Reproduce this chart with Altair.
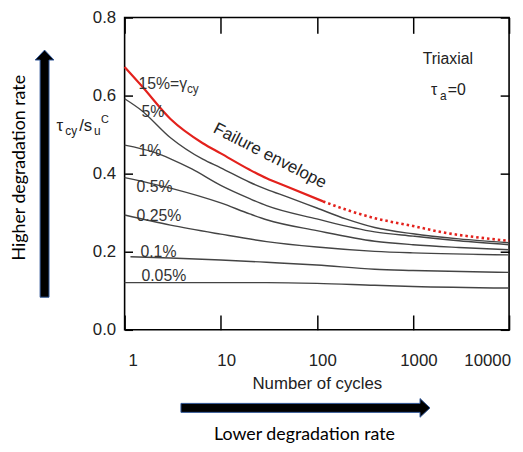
import altair as alt
import pandas as pd

# ---------------- data ----------------
red_solid_N = [1, 1.5, 3, 6.5, 10, 20, 30, 50, 116]
red_solid_tau = [0.673, 0.625, 0.540, 0.478, 0.452, 0.410, 0.388, 0.366, 0.329]
red_dot_N = [116, 200, 400, 1000, 2000, 5000, 10000]
red_dot_tau = [0.329, 0.308, 0.286, 0.266, 0.250, 0.236, 0.228]

c5_N = [1, 1.5, 3, 6.5, 10, 20, 30, 50, 100, 200, 400, 1000, 3000, 10000]
c5_tau = [0.592, 0.562, 0.492, 0.437, 0.415, 0.378, 0.360, 0.340, 0.312, 0.284, 0.262, 0.246, 0.233, 0.223]
c1_N = [1, 2, 3, 5, 10, 20, 30, 100, 400, 1000, 3000, 10000]
c1_tau = [0.473, 0.455, 0.438, 0.412, 0.370, 0.336, 0.318, 0.284, 0.251, 0.240, 0.228, 0.218]
c05_N = [1, 3, 10, 20, 30, 100, 400, 1000, 3000, 10000]
c05_tau = [0.390, 0.363, 0.325, 0.297, 0.282, 0.254, 0.227, 0.218, 0.211, 0.205]
c025_N = [1, 3, 10, 30, 100, 400, 1000, 10000]
c025_tau = [0.294, 0.268, 0.245, 0.226, 0.212, 0.201, 0.197, 0.192]
c01_N = [1.15, 3, 10, 30, 100, 400, 1000, 10000]
c01_tau = [0.187, 0.184, 0.179, 0.173, 0.166, 0.155, 0.152, 0.147]
c005_N = [1, 10, 30, 100, 400, 1000, 10000]
c005_tau = [0.121, 0.121, 0.121, 0.119, 0.114, 0.111, 0.107]

x_ticks = [1, 10, 100, 1000, 10000]
x_tick_labels = ["1", "10", "100", "1000", "10000"]
y_ticks = [0.0, 0.2, 0.4, 0.6, 0.8]

W, H = 389, 316
FONT = "Liberation Sans"
TXT = "#222222"
GRAY = "#444444"
RED = "#e3211c"

gray_rows = []
for name, ns, ts in [("5%", c5_N, c5_tau), ("1%", c1_N, c1_tau), ("0.5%", c05_N, c05_tau),
                     ("0.25%", c025_N, c025_tau), ("0.1%", c01_N, c01_tau), ("0.05%", c005_N, c005_tau)]:
    for n, t in zip(ns, ts):
        gray_rows.append({"curve": name, "N": n, "tau": t})
gray_df = pd.DataFrame(gray_rows)
red_solid_df = pd.DataFrame({"N": red_solid_N, "tau": red_solid_tau})
red_dot_df = pd.DataFrame({"N": red_dot_N, "tau": red_dot_tau})

xs = alt.Scale(type="log", domain=[1, 10000])
ys = alt.Scale(domain=[0, 0.8])

tick_look = dict(ticks=True, tickColor="#000000", tickWidth=1.5, domain=False, grid=False)

# bottom / left axes: pulled inside the frame so that their ticks point inward
x_axis_bottom = alt.Axis(values=x_ticks, labels=False, title="Number of cycles", orient="bottom",
                         offset=-15, tickSize=15, titlePadding=46, titleFontSize=17,
                         titleFontWeight="normal", titleColor=TXT, **tick_look)
y_axis_left = alt.Axis(values=y_ticks, format=".1f", title=None, orient="left",
                       offset=-8, tickSize=8, labelPadding=9, **tick_look)
# top / right axes: ticks only
x_axis_top = alt.Axis(values=x_ticks, labels=False, title=None, orient="top",
                      offset=-16, tickSize=16, **tick_look)
y_axis_right = alt.Axis(values=y_ticks, labels=False, title=None, orient="right",
                        offset=-9, tickSize=9, **tick_look)

gray_lines = alt.Chart(gray_df).mark_line(color=GRAY, strokeWidth=1.4, interpolate="monotone").encode(
    x=alt.X("N:Q", scale=xs, axis=x_axis_bottom),
    y=alt.Y("tau:Q", scale=ys, axis=y_axis_left),
    detail="curve:N",
)
red_solid = alt.Chart(red_solid_df).mark_line(color=RED, strokeWidth=2.2, interpolate="monotone").encode(
    x=alt.X("N:Q", scale=xs, axis=x_axis_top), y=alt.Y("tau:Q", scale=ys, axis=y_axis_right))
red_dot = alt.Chart(red_dot_df).mark_line(color=RED, strokeWidth=2.6, strokeDash=[2.5, 3],
                                          interpolate="monotone").encode(
    x=alt.X("N:Q", scale=xs, axis=None), y=alt.Y("tau:Q", scale=ys, axis=None))

# x tick labels (shifted right like the reference)
xl_df = pd.DataFrame({"N": x_ticks, "lab": x_tick_labels})
xl_style = dict(fontSize=17, font=FONT, color=TXT, baseline="top")
xl_first = alt.Chart(xl_df.iloc[:1]).mark_text(align="left", dx=4, **xl_style).encode(
    x=alt.X("N:Q", scale=xs, axis=None), y=alt.value(H + 24), text="lab:N")
xl_mid = alt.Chart(xl_df.iloc[1:4]).mark_text(align="center", dx=6, **xl_style).encode(
    x=alt.X("N:Q", scale=xs, axis=None), y=alt.value(H + 24), text="lab:N")
xl_last = alt.Chart(xl_df.iloc[4:]).mark_text(align="right", dx=2, **xl_style).encode(
    x=alt.X("N:Q", scale=xs, axis=None), y=alt.value(H + 24), text="lab:N")


def txt(s, x, y, size=16, align="left", baseline="alphabetic", angle=0, color=TXT, font=FONT):
    return alt.Chart(pd.DataFrame({"t": [s]})).mark_text(
        text=s, fontSize=size, align=align, baseline=baseline, angle=angle, color=color, font=font
    ).encode(x=alt.value(x), y=alt.value(y))


LAB = "#333333"
labels = [
    txt("15%=γ", 14, 72, 16, color=LAB),
    txt("cy", 63, 76, 12, color=LAB),
    txt("5%", 17, 101, 16, color=LAB),
    txt("1%", 14, 140, 16, color=LAB),
    txt("0.5%", 12, 177, 16, color=LAB),
    txt("0.25%", 12, 206, 16, color=LAB),
    txt("0.1%", 16, 242, 16, color=LAB),
    txt("0.05%", 17, 267, 16, color=LAB),
    txt("Failure envelope", 147, 140, 17, align="center", baseline="middle", angle=27, color=TXT),
    txt("Triaxial", 327, 47, 16, align="center"),
    txt("τ", 310, 78, 16),
    txt("a", 319, 83, 12),
    txt("=0", 327, 78, 16),
    # y-axis title
    txt("τ", -69, 115, 17),
    txt("cy", -60, 119, 12),
    txt("/s", -46, 115, 17),
    txt("u", -31, 119, 12),
    txt("C", -24, 107, 11),
    # side annotations
    txt("Higher degradation rate", -106, 152, 18, align="center", baseline="middle", angle=270,
        color="#000000", font="Lato"),
    txt("Lower degradation rate", 182, 422, 18, align="center", baseline="middle",
        color="#000000", font="Lato"),
]

# arrows as custom symbol paths
v_arrow_path = "M0,-1L0.076,-0.92L0.036,-0.92L0.036,1L-0.036,1L-0.036,-0.92L-0.076,-0.92Z"
h_arrow_path = "M1,0L0.92,-0.075L0.92,-0.036L-1,-0.036L-1,0.036L0.92,0.036L0.92,0.075Z"
arrow_style = dict(filled=True, fill="black", stroke="#2f5597", strokeWidth=1.0, opacity=1)
v_arrow = alt.Chart(pd.DataFrame({"a": [0]})).mark_point(
    shape=v_arrow_path, size=250 ** 2, **arrow_style).encode(x=alt.value(-81), y=alt.value(158))
h_arrow = alt.Chart(pd.DataFrame({"a": [0]})).mark_point(
    shape=h_arrow_path, size=252 ** 2, **arrow_style).encode(x=alt.value(183), y=alt.value(395))

chart = alt.layer(
    gray_lines, red_solid, red_dot,
    xl_first, xl_mid, xl_last, v_arrow, h_arrow, *labels,
).resolve_axis(
    x="independent", y="independent"
).properties(
    width=W, height=H,
    autosize=alt.AutoSizeParams(type="none"),
    padding={"left": 118, "top": 7, "right": 6, "bottom": 120},
).configure_view(
    stroke="black", strokeWidth=1.6
).configure_axis(
    labelFont=FONT, labelFontSize=17, labelColor=TXT, titleFont=FONT,
)

chart.save("out.html", embed_options={"renderer": "svg", "actions": False})
